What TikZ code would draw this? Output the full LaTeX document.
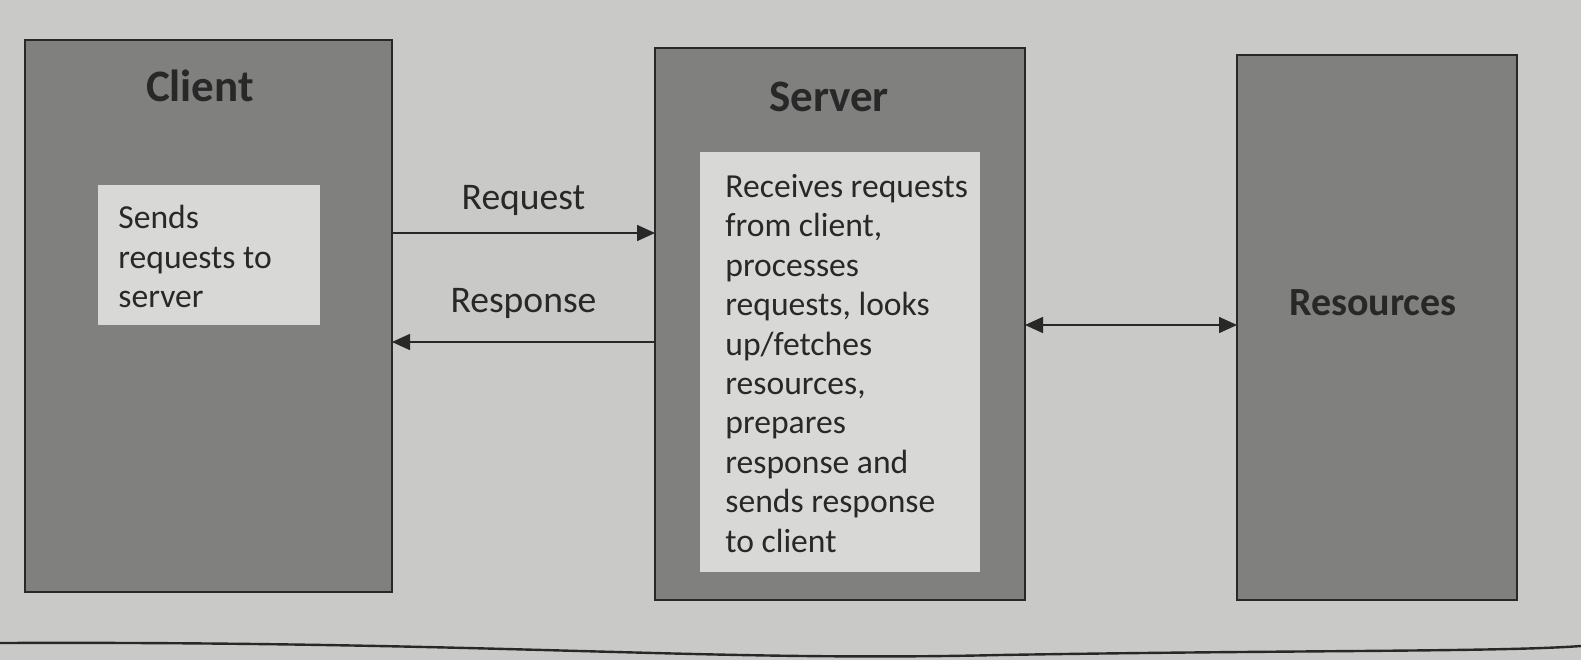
\documentclass[tikz,border=0pt]{standalone}
\usepackage{fontspec}
\setmainfont{Carlito}
\usetikzlibrary{arrows.meta}
\definecolor{paper}{RGB}{201,201,199}
\definecolor{boxgray}{RGB}{128,128,127}
\definecolor{innergray}{RGB}{216,216,214}
\definecolor{ink}{RGB}{40,40,40}
\tikzset{
  outerbox/.style={draw=ink, line width=1pt, fill=boxgray},
  innerbox/.style={fill=innergray},
  title/.style={text=ink, font=\bfseries\fontsize{22.5}{26}\selectfont},
  body/.style={text=ink, font=\fontsize{16.8}{19.7}\selectfont, align=left, anchor=north west, inner sep=0pt},
  lbl/.style={text=ink, font=\fontsize{18.8}{22}\selectfont},
  conn/.style={draw=ink, line width=0.8pt, -{Triangle[length=9pt,width=8pt]}},
  conn2/.style={draw=ink, line width=0.8pt, {Triangle[length=9pt,width=8pt]}-{Triangle[length=9pt,width=8pt]}}
}
\begin{document}
\begin{tikzpicture}[x=0.5pt,y=-0.5pt]
\fill[paper] (0,0) rectangle (1581,660);
\useasboundingbox (0,0) rectangle (1581,660);
% outer boxes
\path[outerbox] (25,40) rectangle (392,592);
\path[outerbox] (655,48) rectangle (1025,600);
\path[outerbox] (1237,55) rectangle (1517,600);
% named anchors for connectors
\coordinate (clientE1) at (392,233);
\coordinate (clientE2) at (392,342);
\coordinate (serverW1) at (655,233);
\coordinate (serverW2) at (655,342);
\coordinate (serverE) at (1025,325);
\coordinate (resW) at (1237,325);
% inner boxes
\path[innerbox] (98,185) rectangle (320,325);
\path[innerbox] (700,152) rectangle (980,572);
% titles
\node[title] (tclient) at (200,86) {Client};
\node[title] (tserver) at (829,97) {Server};
\node[title, font=\bfseries\fontsize{20}{24}\selectfont] (tres) at (1373,303) {Resources};
% body texts
\node[body] (cbody) at (118,205) {Sends\\requests to\\server};
\node[body] (sbody) at (725,174) {Receives requests\\from client,\\processes\\requests, looks\\up/fetches\\resources,\\prepares\\response and\\sends response\\to client};
% connectors
\draw[conn] (clientE1) -- node[lbl, above=5pt] (lreq) {Request} (serverW1);
\draw[conn] (serverW2) -- node[lbl, above=8pt] (lresp) {Response} (clientE2);
\draw[conn2] (serverE) -- (resW);
% page frame line
\coordinate (fl) at (0,643);
\coordinate (fr) at (1581,646);
\draw[ink, line width=1.2pt] (fl) .. controls (500,641) and (700,662) .. (1000,655) .. controls (1300,650) and (1500,652) .. (fr);
\end{tikzpicture}
\end{document}
